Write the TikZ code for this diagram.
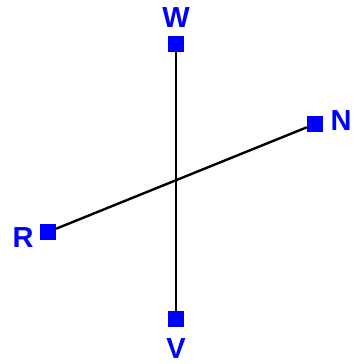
\documentclass[tikz,border=0pt]{standalone}
\usepackage{fontspec}
\setmainfont{Liberation Sans}
\usepackage{tikz}
\usetikzlibrary{positioning}
\definecolor{pinblue}{RGB}{0,0,255}
\newcommand{\tagfont}{\fontsize{29pt}{32pt}\selectfont\bfseries}

\begin{document}
\begin{tikzpicture}[x=1pt, y=-1pt,
        endpin/.style={draw=none, fill=pinblue, rectangle, minimum size=16pt, inner sep=0pt},
        endtag/.style={text=pinblue, font=\tagfont, inner sep=0pt},
        wire/.style={draw=black, line width=2.4pt}
    ]
    \useasboundingbox (0,0) rectangle (357,364);

    % Ends
    \node[endpin] (w) at (176,44) {};
    \node[endpin] (v) at (176,319) {};
    \node[endpin] (n) at (315,124) {};
    \node[endpin] (r) at (48,232) {};

    % Labels
    \node[endtag] (wl) at (176,18) {W};
    \node[endtag] (vl) at (176,349) {V};
    \node[endtag] (nl) at (341,121) {N};
    \node[endtag] (rl) at (23,238) {R};

    % Axes
    \draw[wire] (w) -- (v);
    \draw[wire] (n) -- (r);

\end{tikzpicture}
\end{document}
